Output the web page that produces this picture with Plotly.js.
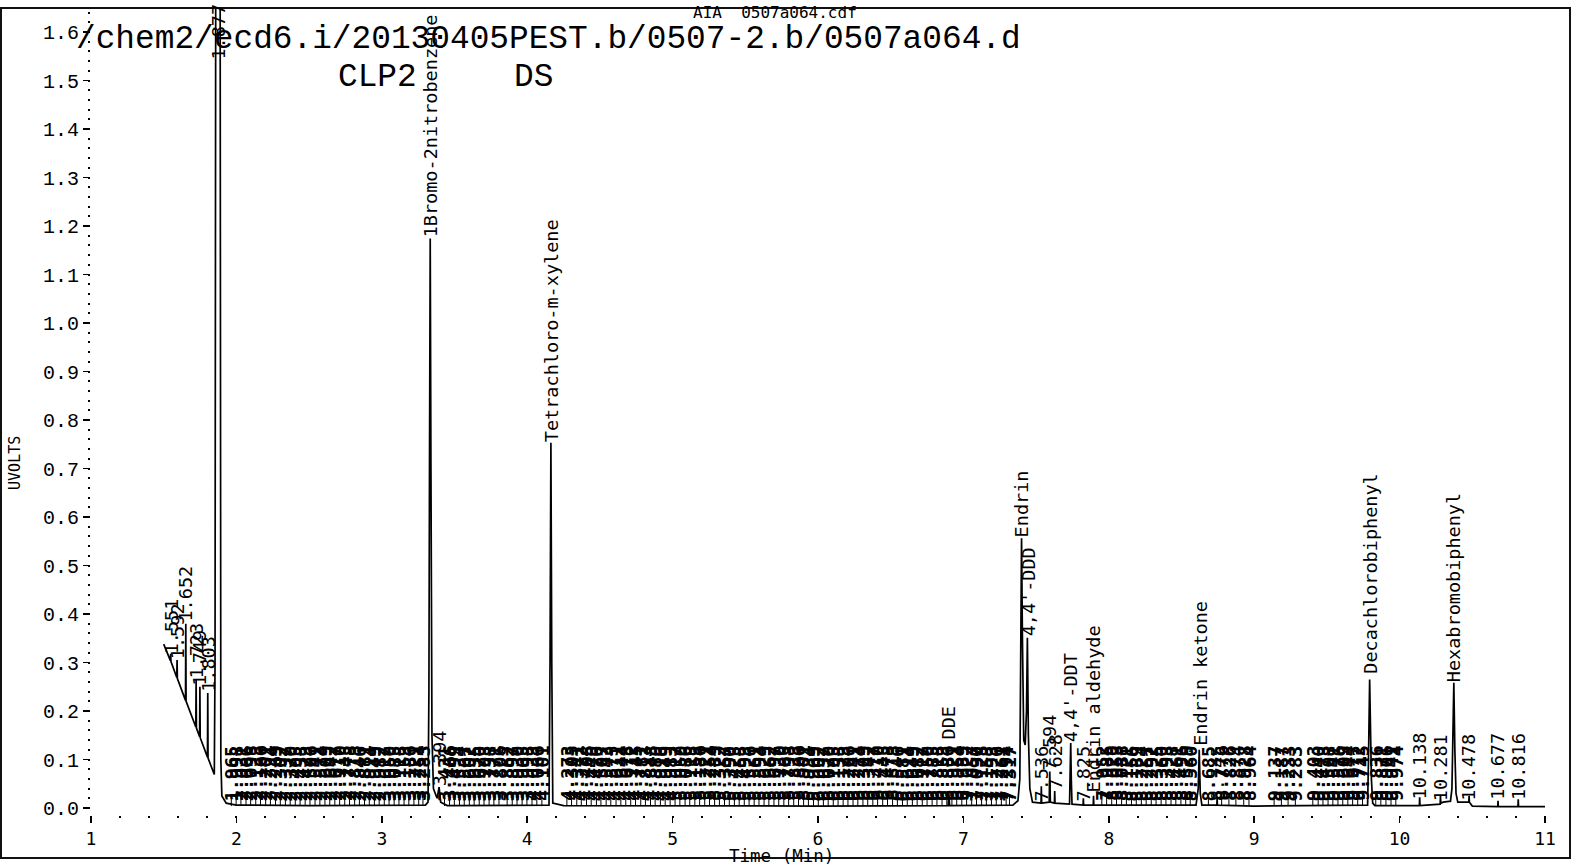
<!DOCTYPE html>
<html><head><meta charset="utf-8">
<script src="https://cdn.plot.ly/plotly-3.0.1.min.js"></script>
<style>html,body{margin:0;padding:0;background:#fff}#chart{width:1580px;height:867px}</style>
</head><body><div id="chart"></div>
<script>
// ---- chromatogram trace (time in min, signal in volts) ----
const traceTime = [1.500,1.546,1.548,1.550,1.590,1.592,1.594,1.650,1.652,1.654,1.721,1.723,1.725,1.747,1.749,1.751,1.801,1.803,1.805,1.848,1.853,1.858,1.888,1.893,1.900,1.930,2.000,2.500,3.000,3.300,3.318,3.324,3.328,3.333,3.338,3.345,3.355,3.380,3.394,3.405,3.450,4.000,4.150,4.157,4.163,4.169,4.176,4.250,5.000,6.000,6.895,6.900,6.905,7.340,7.375,7.388,7.395,7.400,7.406,7.415,7.425,7.434,7.440,7.447,7.457,7.475,7.534,7.536,7.538,7.590,7.594,7.598,7.626,7.628,7.630,7.730,7.735,7.738,7.742,7.747,7.823,7.825,7.827,7.893,7.895,7.897,8.600,8.615,8.622,8.629,8.640,8.743,8.745,8.747,9.000,9.780,9.786,9.790,9.794,9.799,9.806,9.815,9.830,10.136,10.138,10.140,10.279,10.281,10.283,10.300,10.350,10.360,10.366,10.373,10.380,10.388,10.400,10.476,10.478,10.480,10.500,10.675,10.677,10.679,10.814,10.816,10.818,11.000];
const traceVolts = [0.338,0.304,0.318,0.302,0.269,0.305,0.267,0.222,0.380,0.220,0.167,0.265,0.165,0.147,0.250,0.145,0.105,0.237,0.103,0.069,0.300,1.750,1.750,0.100,0.025,0.010,0.006,0.005,0.005,0.006,0.012,0.240,0.700,1.174,0.700,0.150,0.040,0.020,0.043,0.012,0.005,0.005,0.006,0.300,0.753,0.300,0.010,0.005,0.004,0.004,0.005,0.030,0.005,0.006,0.015,0.060,0.350,0.556,0.350,0.140,0.130,0.200,0.351,0.150,0.040,0.012,0.010,0.045,0.010,0.012,0.075,0.012,0.010,0.035,0.010,0.008,0.060,0.134,0.060,0.008,0.006,0.020,0.006,0.006,0.025,0.006,0.006,0.040,0.120,0.030,0.006,0.006,0.020,0.006,0.004,0.006,0.100,0.200,0.265,0.180,0.060,0.010,0.005,0.005,0.022,0.005,0.008,0.025,0.010,0.012,0.014,0.040,0.150,0.258,0.120,0.030,0.012,0.012,0.025,0.012,0.004,0.003,0.015,0.003,0.003,0.018,0.003,0.003];

// ---- named compounds ----
const compoundNames = ["1Bromo-2nitrobenzene","Tetrachloro-m-xylene","DDE","Endrin","4,4'-DDD","4,4'-DDT","Endrin aldehyde","Endrin ketone","Decachlorobiphenyl","Hexabromobiphenyl"];
const compoundTimes = [3.333,4.163,6.900,7.400,7.445,7.738,7.895,8.630,9.794,10.373];
const compoundBase  = [1.174,0.753,0.140,0.556,0.351,0.134,0.030,0.126,0.274,0.258];

// ---- individually readable retention-time labels ----
const rtTimes = [1.551,1.592,1.652,1.723,1.749,1.803,1.877,3.394,7.536,7.594,7.628,7.825,8.745,10.138,10.281,10.478,10.677,10.816];
const rtBase  = [0.315,0.305,0.382,0.265,0.250,0.237,1.540,0.043,0.012,0.075,0.035,0.012,0.012,0.016,0.012,0.012,0.014,0.014];

// ---- crowded retention-time labels near the baseline ----
const crowdA = [1.965,1.998,2.031,2.066,2.098,2.133,2.166,2.201,2.234,2.269,2.302,2.337,2.370,2.405,2.438,2.473,2.506,2.541,2.574,2.609,2.642,2.677,2.710,2.745,2.778,2.813,2.846,2.881,2.914,2.949,2.982,3.017,3.050,3.085,3.118,3.153,3.186,3.221,3.254,3.283];
const crowdB = [3.431,3.466,3.499,3.534,3.567,3.602,3.635,3.670,3.703,3.738,3.771,3.806,3.862,3.897,3.930,3.965,3.998,4.033,4.066,4.101];
const crowdC = [4.273,4.305,4.341,4.372,4.408,4.440,4.476,4.507,4.543,4.575,4.611,4.644,4.678,4.712,4.745,4.781,4.813,4.848,4.880,4.916,4.949,4.983,5.017,5.050,5.086,5.118,5.153,5.186,5.221,5.254,5.289,5.322,5.357,5.390,5.425,5.458,5.493,5.526,5.561,5.594,5.629,5.662,5.697,5.730,5.765,5.798,5.833,5.866,5.901,5.934,5.969,6.002,6.037,6.070,6.105,6.138,6.173,6.206,6.241,6.274,6.309,6.342,6.377,6.410,6.445,6.478,6.513,6.546,6.581,6.614,6.649,6.682,6.717,6.750,6.785,6.818,6.853,6.886,6.921,6.954,6.989,7.022,7.057,7.090,7.125,7.158,7.193,7.226,7.261,7.294,7.317];
const crowdD = [7.952,7.985,8.020,8.053,8.088,8.121,8.156,8.189,8.224,8.257,8.292,8.325,8.360,8.393,8.428,8.461,8.496,8.529,8.560];
const crowdE = [8.685,8.776,8.826,8.874,8.928,8.964,9.137,9.187,9.233,9.283,9.403,9.440,9.473,9.508,9.541,9.576,9.609,9.644,9.677,9.712,9.745,9.836,9.871,9.906,9.941,9.974];
const crowdBase = 0.012;

// ---- axes ----
const xTickVals = [1,2,3,4,5,6,7,8,9,10,11];
const yTickVals = [0,0.1,0.2,0.3,0.4,0.5,0.6,0.7,0.8,0.9,1.0,1.1,1.2,1.3,1.4,1.5,1.6];

const labelFont = {family:'DejaVu Sans Mono', size:18.5, color:'#000'};
const crowdFont = {family:'DejaVu Sans Mono', size:18.5, color:'#000', weight:'bold'};
function vlabel(t, base, text, font){
  return {x:t, y:base, xref:'x', yref:'y', text:text, textangle:-90, showarrow:false,
          xanchor:'center', yanchor:'bottom', font:font || labelFont, borderpad:0};
}
const annotations = [];
const crowd = crowdA.concat(crowdB, crowdC, crowdD, crowdE);
crowd.forEach(t => annotations.push(vlabel(t, crowdBase, t.toFixed(3), crowdFont)));
rtTimes.forEach((t,i) => annotations.push(vlabel(t, rtBase[i], t.toFixed(3))));
compoundNames.forEach((n,i) => annotations.push(vlabel(compoundTimes[i], compoundBase[i], n)));

// page texts
const mono = 'Liberation Mono, Courier New, monospace';
annotations.push({xref:'paper', yref:'paper', x:-0.011, y:0.9848, xanchor:'left', yanchor:'top', showarrow:false, borderpad:0,
  text:'/chem2/ecd6.i/20130405PEST.b/0507-2.b/0507a064.d', font:{family:mono, size:32.8, color:'#000'}});
annotations.push({xref:'paper', yref:'paper', x:0.1692, y:0.9383, xanchor:'left', yanchor:'top', showarrow:false, borderpad:0,
  text:'CLP2', font:{family:mono, size:32.8, color:'#000'}});
annotations.push({xref:'paper', yref:'paper', x:0.2902, y:0.9383, xanchor:'left', yanchor:'top', showarrow:false, borderpad:0,
  text:'DS', font:{family:mono, size:32.8, color:'#000'}});
annotations.push({xref:'paper', yref:'paper', x:0.4133, y:1.007, xanchor:'left', yanchor:'top', showarrow:false, borderpad:0,
  text:'AIA\u00a0\u00a00507a064.cdf', font:{family:'DejaVu Sans Mono', size:16, color:'#000'}});
annotations.push({xref:'paper', yref:'paper', x:-0.0523, y:0.4362, xanchor:'center', yanchor:'middle', textangle:-90, showarrow:false, borderpad:0,
  text:'UVOLTS', font:{family:'DejaVu Sans Mono', size:15, color:'#000'}});
annotations.push({xref:'paper', yref:'paper', x:0.4746, y:-0.0507, xanchor:'center', yanchor:'middle', showarrow:false, borderpad:0,
  text:'Time (Min)', font:{family:'DejaVu Sans Mono', size:17.5, color:'#000'}});

// marker ticks under crowded labels
const mx = [], my = [];
crowd.forEach(t => { mx.push(t, t, null); my.push(0.004, 0.026, null); });

const data = [
  {x:mx, y:my, mode:'lines', line:{color:'#000', width:1}, hoverinfo:'skip', showlegend:false},
  {x:traceTime, y:traceVolts, mode:'lines', line:{color:'#000', width:1.7}, showlegend:false}
];

const layout = {
  width:1580, height:867,
  margin:{l:91, r:35, t:8, b:52},
  paper_bgcolor:'#fff', plot_bgcolor:'#fff',
  showlegend:false,
  xaxis:{range:[1,11], tickmode:'array', tickvals:xTickVals, ticktext:xTickVals.map(String),
    ticks:'outside', ticklen:7, tickwidth:1.5, tickcolor:'#000',
    minor:{tickmode:'linear', tick0:1, dtick:0.2, ticks:'outside', ticklen:2, tickwidth:2, tickcolor:'#000'},
    showgrid:false, zeroline:false, showline:false,
    tickfont:{family:'DejaVu Sans Mono', size:18, color:'#000'}},
  yaxis:{range:[-0.01443, 1.64948], tickmode:'array', tickvals:yTickVals, ticktext:yTickVals.map(v=>v.toFixed(1)),
    ticks:'outside', ticklen:7, tickwidth:1.5, tickcolor:'#000',
    minor:{tickmode:'linear', tick0:0, dtick:0.02, ticks:'outside', ticklen:2, tickwidth:2, tickcolor:'#000'},
    showgrid:false, zeroline:false, showline:false,
    tickfont:{family:mono, size:20, color:'#000'}},
  annotations:annotations,
  shapes:[{type:'rect', xref:'paper', yref:'paper', x0:-0.0619, x1:1.0172, y0:-0.0533, y1:1.0000,
    line:{color:'#111', width:2}, fillcolor:'rgba(0,0,0,0)'}]
};
Plotly.newPlot('chart', data, layout, {displayModeBar:false, staticPlot:true});
</script></body></html>
